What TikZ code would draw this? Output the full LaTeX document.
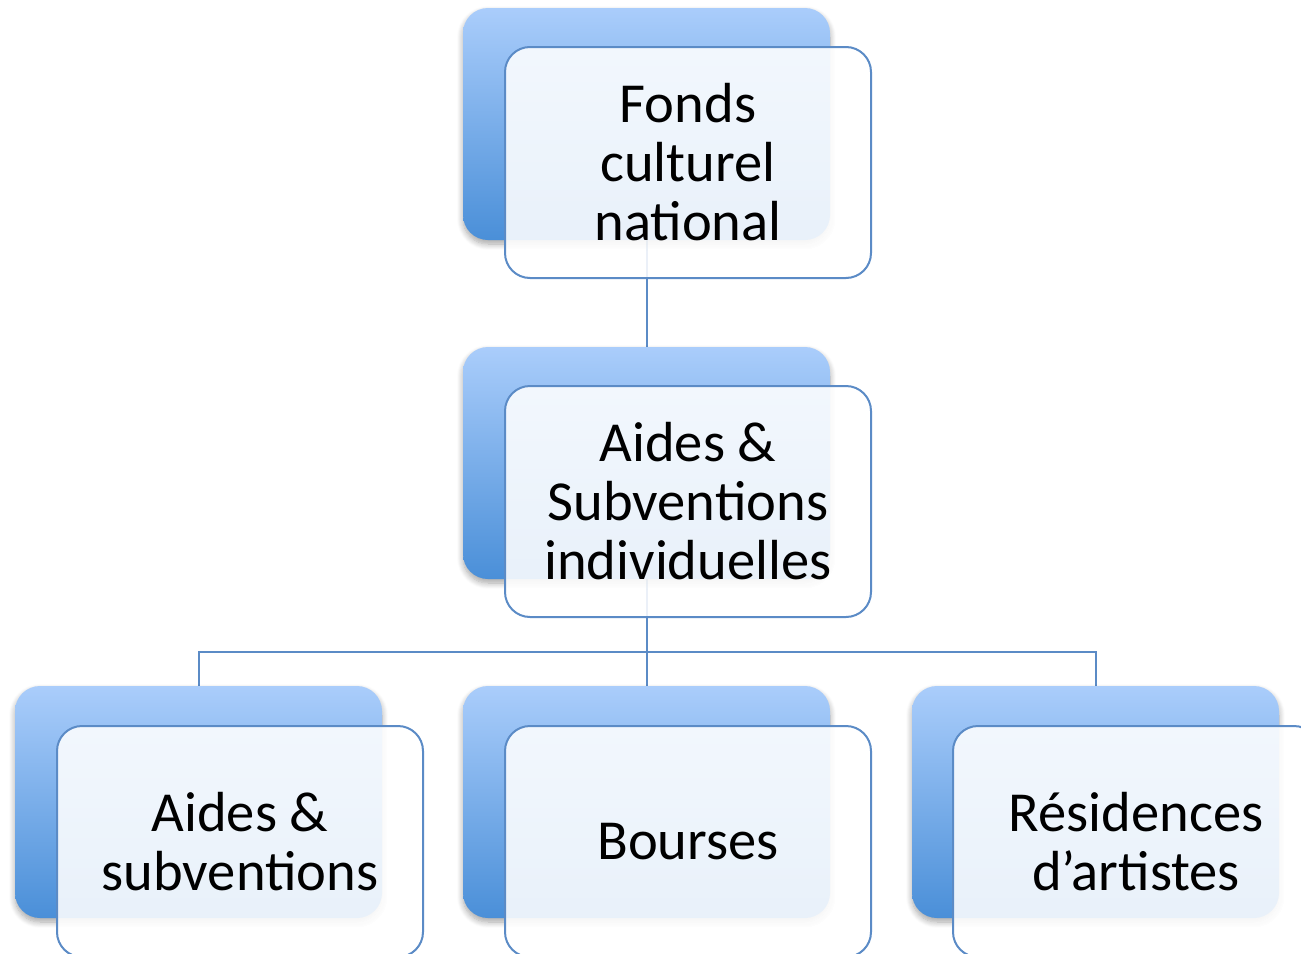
\documentclass[tikz,border=0pt]{standalone}
\usepackage{fontspec}
\setmainfont{Carlito}
\usetikzlibrary{shadows.blur}
\definecolor{lineblue}{HTML}{5B8BC6}
\definecolor{gtop}{HTML}{AACDFB}
\definecolor{gbot}{HTML}{4A8FD8}
\tikzset{
  backbox/.style={rounded corners=25pt, minimum width=367pt, minimum height=232pt,
    top color=gtop, bottom color=gbot, draw=none, inner sep=0pt,
    blur shadow={shadow xshift=0pt, shadow yshift=-4pt, shadow blur steps=8, shadow blur radius=6pt, shadow opacity=35}},
  frontbox/.style={rounded corners=25pt, minimum width=366pt, minimum height=231pt,
    draw=lineblue, line width=2pt, fill=white, fill opacity=0.88, text opacity=1,
    align=center, font=\fontsize{56.5}{59}\selectfont, inner sep=0pt},
  conn/.style={draw=lineblue, line width=2pt}
}
\begin{document}
\begin{tikzpicture}[x=1pt,y=-1pt]
\useasboundingbox (0,0) rectangle (1301,953);
\clip (0,0) rectangle (1301,953);
% back boxes (positions)
\coordinate (pb1) at (646.5,124);
\coordinate (pb2) at (646.5,463);
\coordinate (pb3) at (198.5,802);
\coordinate (pb4) at (646.5,802);
\coordinate (pb5) at (1095.5,802);
% connectors drawn first via invisible nodes
\path (pb1) node[minimum width=367pt, minimum height=232pt, inner sep=0pt] (b1) {};
\path (pb2) node[minimum width=367pt, minimum height=232pt, inner sep=0pt] (b2) {};
\path (pb3) node[minimum width=367pt, minimum height=232pt, inner sep=0pt] (b3) {};
\path (pb4) node[minimum width=367pt, minimum height=232pt, inner sep=0pt] (b4) {};
\path (pb5) node[minimum width=367pt, minimum height=232pt, inner sep=0pt] (b5) {};
\coordinate (j) at (646.5,652);
\draw[conn] (b1.south) -- (b2.north);
\draw[conn] (b2.south) -- (j);
\draw[conn] (b3.north) |- (j) -| (b5.north);
\draw[conn] (j) -- (b4.north);
% back boxes
\node[backbox] (bb1) at (pb1) {};
\node[backbox] (bb2) at (pb2) {};
\node[backbox] (bb3) at (pb3) {};
\node[backbox] (bb4) at (pb4) {};
\node[backbox] (bb5) at (pb5) {};
% front boxes
\node[frontbox] (f1) at (688,162.5) {Fonds\\culturel\\national};
\node[frontbox] (f2) at (688,501.5) {Aides \&\\Subventions\\individuelles};
\node[frontbox] (f3) at (240,841.5) {Aides \&\\subventions};
\node[frontbox] (f4) at (688,841.5) {Bourses};
\node[frontbox] (f5) at (1136,841.5) {Résidences\\d’artistes};
\end{tikzpicture}
\end{document}
